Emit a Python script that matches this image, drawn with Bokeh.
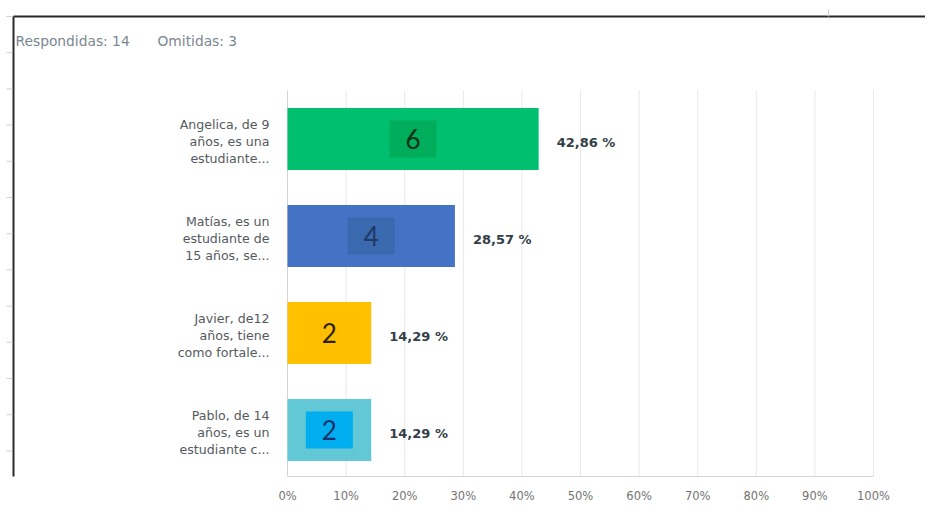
from bokeh.plotting import figure
from bokeh.models import ColumnDataSource, Range1d, LabelSet, FixedTicker
from bokeh.core.properties import value
from bokeh.embed import file_html
from bokeh.resources import INLINE

# ---- data ----
answers = [
    "Angelica, de 9 años, es una estudiante...",
    "Matías, es un estudiante de 15 años, se...",
    "Javier, de12 años, tiene como fortale...",
    "Pablo, de 14 años, es un estudiante c...",
]
line1 = ["Angelica, de 9", "Matías, es un", "Javier, de12", "Pablo, de 14"]
line2 = ["años, es una", "estudiante de", "años, tiene", "años, es un"]
line3 = ["estudiante...", "15 años, se...", "como fortale...", "estudiante c..."]
counts = [6, 4, 2, 2]
percents = [42.86, 28.57, 14.29, 14.29]
percent_labels = ["42,86 %", "28,57 %", "14,29 %", "14,29 %"]
bar_colors = ["#00bf6f", "#4472c4", "#ffc000", "#62c8d6"]
box_colors = ["#00ad5a", "#3b69b0", "#fdbf00", "#00aeef"]
count_colors = ["#0f3119", "#1f3864", "#2a1f00", "#1f2f6a"]
x_ticks = [0, 10, 20, 30, 40, 50, 60, 70, 80, 90, 100]
x_tick_labels = ["0%", "10%", "20%", "30%", "40%", "50%", "60%", "70%", "80%", "90%", "100%"]
respondidas = 14
omitidas = 3
header_texts = [f"Respondidas: {respondidas}", f"Omitidas: {omitidas}"]

# ---- layout constants (pixels) ----
W, H = 925, 506
AXIS_H = 30                 # space below frame for the x tick labels
PX_X0, PX_X100 = 287, 873   # pixel of 0% and 100%
PX_ROW0, ROW_STEP = 138.5, 97.0   # centre of first row, row spacing

ppx = (PX_X100 - PX_X0) / 100.0
x_start = -PX_X0 / ppx
x_end = 100 + (W - PX_X100) / ppx
frame_h = H - AXIS_H
y_top = -PX_ROW0 / ROW_STEP
y_bottom = (frame_h - PX_ROW0) / ROW_STEP

FONT = value("DejaVu Sans")


def sx(px):
    return x_start + px / ppx


def sy(py):
    return y_top + py / ROW_STEP


n = len(answers)
pos = list(range(n))
src = ColumnDataSource(dict(
    answer=answers, pos=pos, l1=line1, l2=line2, l3=line3,
    count=[str(c) for c in counts], pct=percents,
    half=[v / 2 for v in percents], zero=[0] * n,
    pct_label=percent_labels, bar_color=bar_colors,
    box_color=box_colors, count_color=count_colors,
))

p = figure(width=W, height=H, output_backend="svg", toolbar_location=None,
           x_range=Range1d(x_start, x_end), y_range=Range1d(y_bottom, y_top),
           min_border_left=0, min_border_right=0, min_border_top=0,
           min_border_bottom=AXIS_H)
p.title.visible = False
p.outline_line_color = None
p.background_fill_color = "white"
p.border_fill_color = "white"
p.yaxis.visible = False
p.xgrid.visible = False
p.ygrid.visible = False

# vertical grid lines (from top of first row band to bottom)
g_top = -0.5
g_bot = n - 0.5
p.segment(x0=x_ticks[1:], x1=x_ticks[1:], y0=[g_top] * (len(x_ticks) - 1),
          y1=[g_bot] * (len(x_ticks) - 1), line_color="#e8e8e8", line_width=1)
p.segment(x0=[0], x1=[0], y0=[g_top], y1=[g_bot], line_color="#d4d4d4", line_width=1)

# bars
p.hbar(y="pos", left=0, right="pct", height=0.64, color="bar_color",
       line_color=None, source=src)
# inner boxes with counts
p.rect(x="half", y="pos", width=47, height=37, width_units="screen",
       height_units="screen", color="box_color", line_color=None, source=src)
p.add_layout(LabelSet(x="half", y="pos", text="count", source=src,
                      text_align="center", text_baseline="middle",
                      text_font=value("Lato"), text_font_size="26px",
                      text_color="count_color"))

# percent labels
p.add_layout(LabelSet(x="pct", y="pos", text="pct_label", source=src,
                      x_offset=18, y_offset=-3, text_align="left",
                      text_baseline="middle", text_font=FONT,
                      text_font_size="13px", text_font_style="bold",
                      text_color="#333e48"))

# category labels (3 lines each)
for col, dy in (("l1", 15), ("l2", -2), ("l3", -19)):
    p.add_layout(LabelSet(x="zero", y="pos", text=col, source=src,
                          x_offset=-18, y_offset=dy, text_align="right",
                          text_baseline="middle", text_font=FONT,
                          text_font_size="12.6px", text_color="#555a60"))

# x axis
p.xaxis.ticker = FixedTicker(ticks=x_ticks)
p.xaxis.bounds = (x_ticks[0], x_ticks[-1])
p.xaxis.major_label_overrides = {t: l for t, l in zip(x_ticks, x_tick_labels)}
p.xaxis.axis_line_color = "#d6d6d6"
p.xaxis.major_tick_line_color = None
p.xaxis.minor_tick_line_color = None
p.xaxis.major_label_standoff = 6
p.xaxis.major_label_text_font = "DejaVu Sans"
p.xaxis.major_label_text_font_size = "11.5px"
p.xaxis.major_label_text_color = "#737373"

# header
hsrc = ColumnDataSource(dict(x=[sx(15), sx(157)], y=[sy(40)] * 2, t=header_texts))
p.add_layout(LabelSet(x="x", y="y", text="t", source=hsrc, text_font=FONT,
                      text_font_size="13.8px", text_color="#7b8790",
                      text_baseline="middle"))

# screenshot frame (black) and faint ruler ticks
p.segment(x0=[sx(13), sx(13)], y0=[sy(16), sy(16)], x1=[sx(W), sx(13)],
          y1=[sy(16), sy(H)], line_color="#2a2a2a", line_width=2)
ruler_px = [16 + 36.2 * k for k in range(14)]
p.segment(x0=[sx(6)] * len(ruler_px), x1=[sx(12)] * len(ruler_px),
          y0=[sy(v) for v in ruler_px], y1=[sy(v) for v in ruler_px],
          line_color="#cfcfcf", line_width=1)
p.segment(x0=[sx(828)], x1=[sx(828)], y0=[sy(9)], y1=[sy(16)],
          line_color="#cfcfcf", line_width=1)

open("out.html", "w").write(file_html(p, INLINE))
